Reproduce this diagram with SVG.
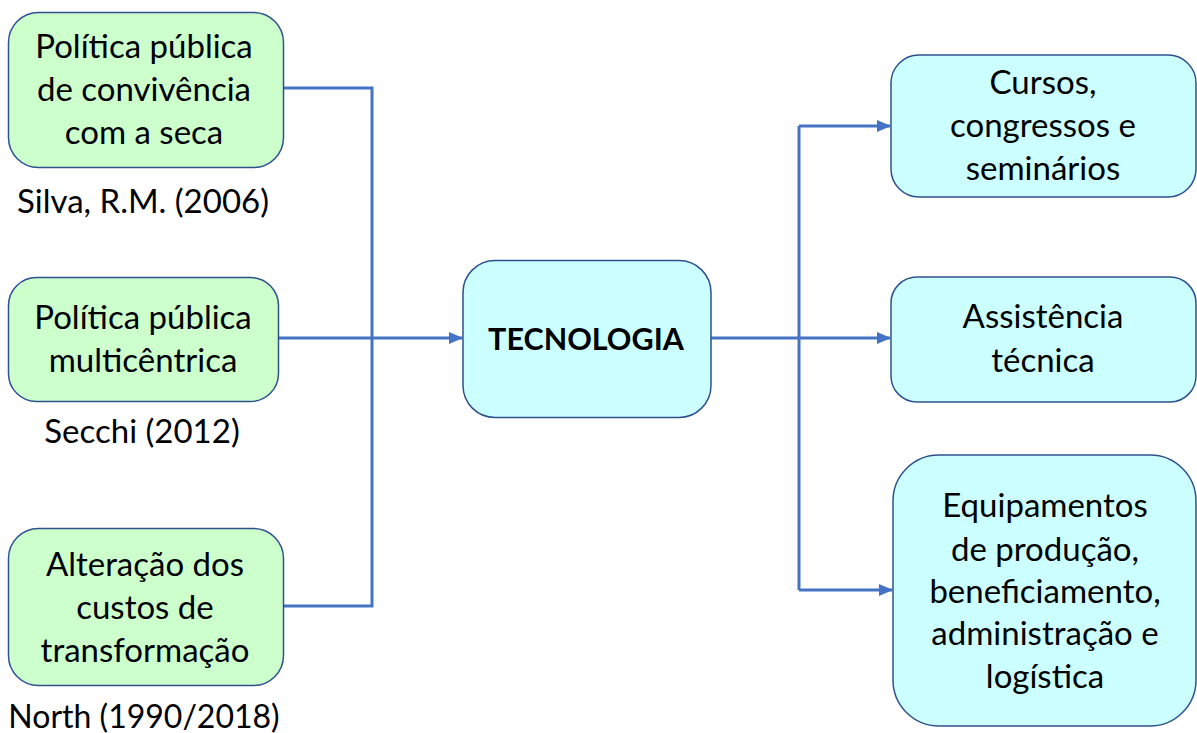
<svg xmlns="http://www.w3.org/2000/svg" width="1197" height="733" viewBox="0 0 1197 733">
  <style>
    .src { fill: #CCFFCC; stroke: #2F528F; stroke-width: 1.5; }
    .out { fill: #CCFFFF; stroke: #2F528F; stroke-width: 1.5; }
    .lbl { font-family: Lato, "Open Sans", sans-serif; font-size: 33px; fill: #000; text-anchor: middle; }
    .ref { font-size: 32px; }
    .bold { font-weight: bold; font-size: 30.5px; }
    .link { fill: none; stroke: #4472C4; stroke-width: 3; }
  </style>
  <defs>
    <marker id="arrow" markerUnits="userSpaceOnUse" markerWidth="14" markerHeight="12" refX="13" refY="6" orient="auto">
      <path d="M0,0 L14,6 L0,12 Z" fill="#4472C4"/>
    </marker>
  </defs>
  <rect width="1197" height="733" fill="#fff"/>

  <g id="connectors">
    <path class="link" d="M283 88 H372 V606 H283"/>
    <path class="link" d="M279 338 H462" marker-end="url(#arrow)"/>
    <path class="link" d="M711 338 H890" marker-end="url(#arrow)"/>
    <path class="link" d="M799 126 V590"/>
    <path class="link" d="M799 126 H890" marker-end="url(#arrow)"/>
    <path class="link" d="M799 590 H892" marker-end="url(#arrow)"/>
  </g>

  <g id="node-convivencia">
    <rect class="src" x="8.5" y="12.5" width="275" height="155" rx="30"/>
    <text class="lbl" x="144" y="58">Política pública</text>
    <text class="lbl" x="144" y="101">de convivência</text>
    <text class="lbl" x="144" y="144">com a seca</text>
  </g>
  <text id="ref-silva" class="lbl" x="143" y="213">Silva, R.M. (2006)</text>

  <g id="node-multicentrica">
    <rect class="src" x="8.5" y="277.5" width="270" height="124" rx="28"/>
    <text class="lbl" x="143" y="329">Política pública</text>
    <text class="lbl" x="143" y="372">multicêntrica</text>
  </g>
  <text id="ref-secchi" class="lbl" x="142" y="443">Secchi (2012)</text>

  <g id="node-custos">
    <rect class="src" x="8.5" y="528.5" width="275" height="157" rx="30"/>
    <text class="lbl" x="145" y="576">Alteração dos</text>
    <text class="lbl" x="145" y="619">custos de</text>
    <text class="lbl" x="145" y="662">transformação</text>
  </g>
  <text id="ref-north" class="lbl ref" x="144" y="728">North (1990/2018)</text>

  <g id="node-tecnologia">
    <rect class="out" x="463" y="260.5" width="248" height="157" rx="32"/>
    <text class="lbl bold" x="586" y="350">TECNOLOGIA</text>
  </g>

  <g id="node-cursos">
    <rect class="out" x="891" y="55" width="305" height="142" rx="28"/>
    <text class="lbl" x="1043" y="94">Cursos,</text>
    <text class="lbl" x="1043" y="137">congressos e</text>
    <text class="lbl" x="1043" y="180">seminários</text>
  </g>

  <g id="node-assistencia">
    <rect class="out" x="891" y="277" width="305" height="125" rx="26"/>
    <text class="lbl" x="1043" y="328">Assistência</text>
    <text class="lbl" x="1043" y="372">técnica</text>
  </g>

  <g id="node-equipamentos">
    <rect class="out" x="893" y="455" width="303" height="271" rx="46"/>
    <text class="lbl" x="1045" y="517">Equipamentos</text>
    <text class="lbl" x="1045" y="561">de produção,</text>
    <text class="lbl" x="1045" y="603">beneficiamento,</text>
    <text class="lbl" x="1045" y="645">administração e</text>
    <text class="lbl" x="1045" y="688">logística</text>
  </g>
</svg>
